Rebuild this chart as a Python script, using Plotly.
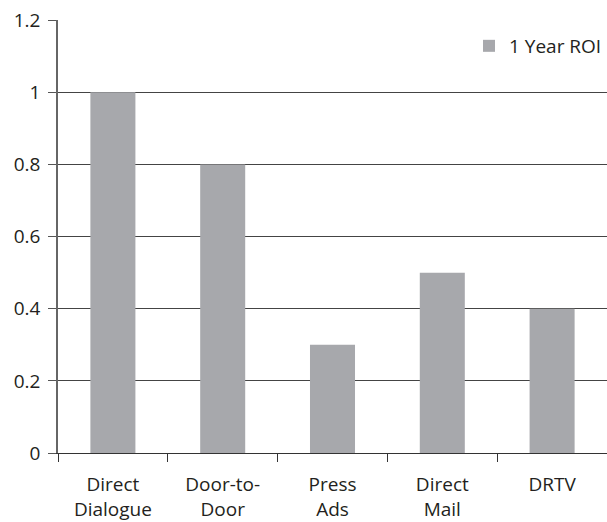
import plotly.graph_objects as go

categories = ["Direct<br>Dialogue", "Door-to-<br>Door", "Press<br>Ads", "Direct<br>Mail", "DRTV"]
roi_1yr = [1.0, 0.8, 0.3, 0.5, 0.4]
y_ticks = [0, 0.2, 0.4, 0.6, 0.8, 1.0, 1.2]
y_tick_labels = ["0", "0.2", "0.4", "0.6", "0.8", "1", "1.2"]

font_family = "Open Sans, Lato, sans-serif"
ink = "#231f20"

fig = go.Figure(
    go.Bar(
        x=categories,
        y=roi_1yr,
        name="1 Year ROI",
        marker=dict(color="#a7a8ac", line=dict(width=0)),
    )
)

fig.update_layout(
    width=607,
    height=522,
    margin=dict(l=58, r=0, t=20, b=69),
    paper_bgcolor="white",
    plot_bgcolor="white",
    bargap=0.59,
    font=dict(family=font_family, size=19, color=ink),
    showlegend=True,
    legend=dict(
        x=1.0, y=0.94, xanchor="right", yanchor="middle",
        font=dict(size=19, color=ink),
        bgcolor="rgba(0,0,0,0)",
        itemwidth=30,
    ),
)

fig.update_xaxes(
    type="category",
    showline=True, linecolor="#333333", linewidth=1.2,
    ticks="outside", tickson="boundaries", ticklen=8, tickcolor="#333333",
    showgrid=False,
    ticklabelstandoff=14,
    tickfont=dict(size=19, color=ink),
)

fig.update_yaxes(
    range=[0, 1.2005],
    tickvals=y_ticks, ticktext=y_tick_labels,
    showline=True, linecolor="#666666", linewidth=1.5,
    ticks="outside", ticklen=8, tickcolor="#555555",
    showgrid=True, gridcolor="#444444", gridwidth=1,
    zeroline=False,
    ticklabelstandoff=4,
    tickfont=dict(size=19, color=ink),
)

fig.write_html("out.html")
